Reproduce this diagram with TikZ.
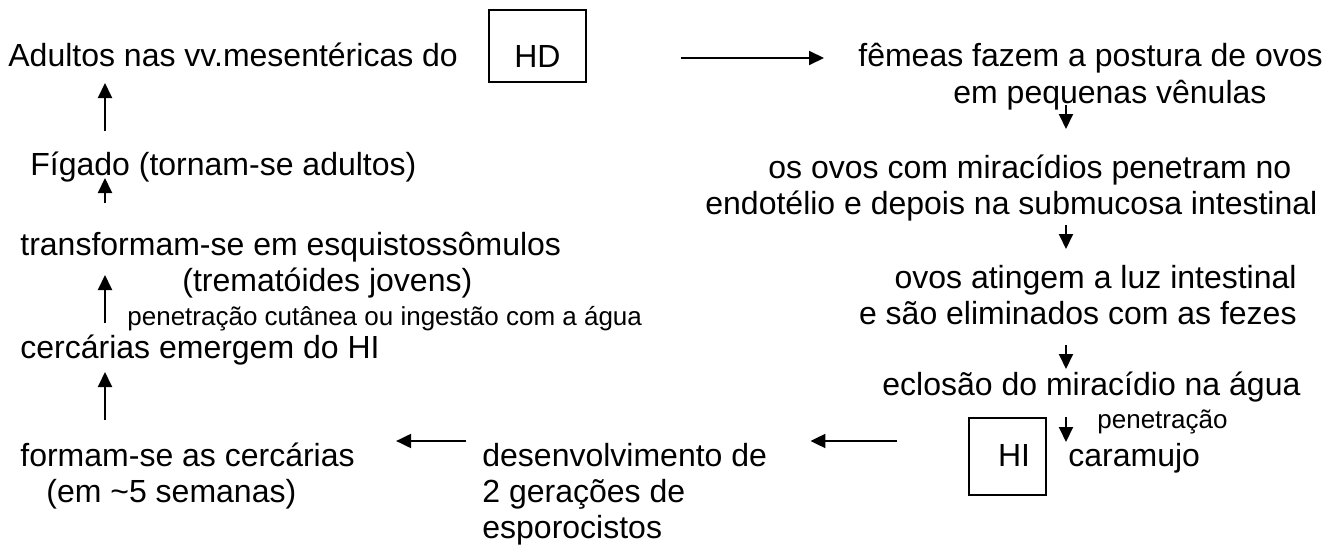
\documentclass[tikz,border=0pt]{standalone}
\usepackage{fontspec}
\setmainfont{Liberation Sans}
\usetikzlibrary{arrows.meta}

\begin{document}
\begin{tikzpicture}[
  x=0.5pt, y=-0.5pt,
  font=\fontsize{16pt}{18pt}\selectfont,
  stage/.style={inner sep=0pt, anchor=base west, align=left},
  note/.style={stage, font=\fontsize{13pt}{15pt}\selectfont},
  host/.style={draw, line width=0.85pt, inner sep=0pt},
  flow/.style={-{Triangle[length=7.5pt, width=7pt]}, line width=1pt},
]
\useasboundingbox (0,0) rectangle (1335,546);

% left column, read upwards (multi-line nodes sit on their last line)
\node[stage] (adultos) at (8,67) {Adultos nas vv.mesentéricas do};
\node[stage] (figado) at (30,175) {Fígado (tornam-se adultos)};
\node[stage] (transf) at (20,291) {transformam-se em esquistossômulos\\\hspace*{81pt}(trematóides jovens)};
\node[note] (pencut) at (127,325) {penetração cutânea ou ingestão com a água};
\node[stage] (cercarias) at (20,358) {cercárias emergem do HI};
\node[stage] (formam) at (20,502) {formam-se as cercárias\\\hspace*{13pt}(em \textasciitilde5 semanas)};

% hosts
\node[host, text height=22pt, text depth=0pt, minimum width=48.5pt, minimum height=36pt] (hd) at (537.5,46) {HD};
\node[host, text height=11.5pt, text depth=2pt, minimum width=38.5pt, minimum height=38.5pt] (hi) at (1007.5,456.5) {\hspace*{6.5pt}HI};

% right column, read downwards
\node[stage] (femeas) at (858,103) {fêmeas fazem a postura de ovos\\\hspace*{47.5pt}em pequenas vênulas};
\node[stage] (ovos) at (705,214) {\hspace*{31.5pt}os ovos com miracídios penetram no\\endotélio e depois na submucosa intestinal};
\node[stage, anchor=base east, align=right] (luz) at (1297,324) {ovos atingem a luz intestinal\\e são eliminados com as fezes};
\node[stage] (eclosao) at (882,395) {eclosão do miracídio na água};
\node[note] (penhi) at (1097,428) {penetração};
\node[stage] (caramujo) at (1068,466) {caramujo};
\node[stage] (desenv) at (482,538) {desenvolvimento de\\2 gerações de\\esporocistos};

\coordinate (lcol) at (105,0);
\coordinate (rcol) at (1066,0);
\coordinate (hdout) at ([yshift=-6pt]hd.east);
\coordinate (lane) at ([yshift=7.75pt]hi.west);

\draw[flow, shorten <=47pt, shorten >=17pt] (hdout) -- (hdout -| femeas.west);
\draw[flow, shorten <=1pt, shorten >=42.5pt] (femeas.base -| rcol) -- (ovos.base -| rcol);
\draw[flow, shorten <=5.5pt, shorten >=37.5pt] (ovos.base -| rcol) -- (luz.base -| rcol);
\draw[flow, shorten <=10.5pt, shorten >=13pt] (luz.base -| rcol) -- (eclosao.base -| rcol);
\draw[flow, shorten <=11pt, shorten >=12pt] (eclosao.base -| rcol) -- (caramujo.base -| rcol);
\draw[flow, shorten <=35.5pt, shorten >=21.5pt] (lane) -- (lane -| desenv.east);
\draw[flow, shorten <=8pt, shorten >=20.5pt] (lane -| desenv.west) -- (lane -| formam.east);
\draw[flow, shorten <=41pt, shorten >=7pt] (formam.base -| lcol) -- (cercarias.base -| lcol);
\draw[flow, shorten <=17.5pt, shorten >=-8pt] (cercarias.base -| lcol) -- (transf.base -| lcol);
\draw[flow, shorten <=44pt, shorten >=1.5pt] (transf.base -| lcol) -- (figado.base -| lcol);
\draw[flow, shorten <=22pt, shorten >=8pt] (figado.base -| lcol) -- (adultos.base -| lcol);

\end{tikzpicture}
\end{document}
